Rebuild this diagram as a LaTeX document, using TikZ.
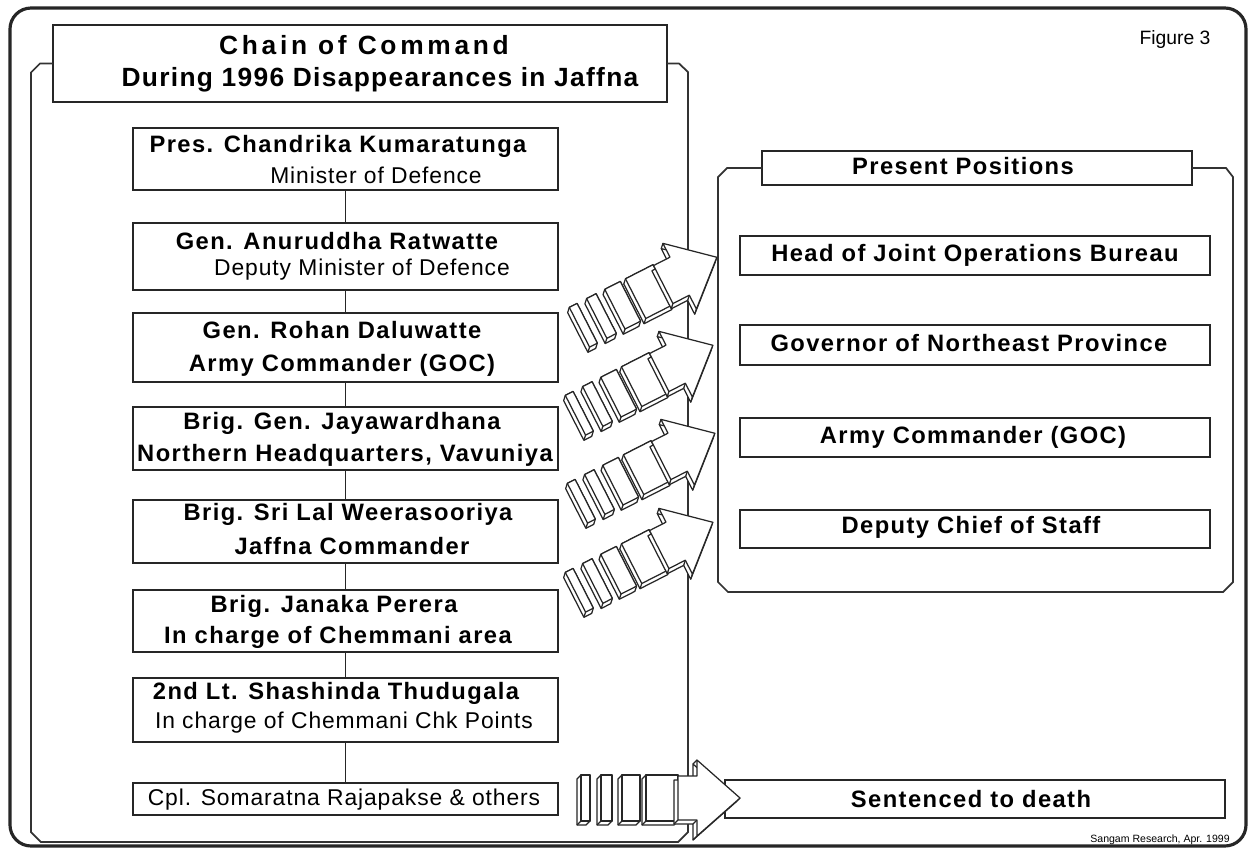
\documentclass[tikz,border=0pt]{standalone}
\usepackage{fontspec}
\setmainfont{Liberation Sans}
\newfontfamily\bxfont[LetterSpace=6]{Liberation Sans}
\newfontfamily\nmfont[LetterSpace=4]{Liberation Sans}
\newfontfamily\ttlfont[LetterSpace=5]{Liberation Sans}
\newfontfamily\chfont[LetterSpace=14]{Liberation Sans}

\tikzset{
 frame/.style={draw=black!85, line width=1.8pt, rounded corners=12pt},
 panel/.style={draw=black!80, line width=1pt},
 box/.style={draw=black!85, line width=1.1pt, fill=white, inner sep=0pt, outer sep=0pt},
 bt/.style={font=\bxfont\bfseries\fontsize{13.5}{16}\selectfont, inner sep=0pt},
 nt/.style={font=\nmfont\fontsize{13}{16}\selectfont, inner sep=0pt},
 tt/.style={font=\ttlfont\bfseries\fontsize{15}{18}\selectfont, inner sep=0pt},
 link/.style={draw=black!85, line width=1.1pt},
 arrw/.style={draw=black!85, line width=0.7pt, fill=white, line join=round},
}

\newcommand\mybox[5]{\node[box, anchor=north west, minimum width={(#4-#2)*0.02cm}, minimum height={(#5-#3)*0.02cm}] (#1) at (#2,#3) {};}

\newcommand\slab[3]{%
  \filldraw[arrw] (#1-4,-#3-4) -- (#2-4,-#3-4) -- (#2,-#3) -- (#2,#3) -- (#1,#3) -- (#1-4,#3-4) -- cycle;
  \filldraw[arrw] (#1,-#3) rectangle (#2,#3);
  \draw[arrw] (#1,-#3) -- (#1-4,-#3-4);
}

\newcommand\fatarrow[4]{%
 \begin{scope}[shift={(#1,#2)}, rotate=#3, x=#4cm, y=#4cm]
  \slab{4}{13}{23}
  \slab{24}{35}{23}
  \slab{45}{63}{23}
  \slab{69}{101}{23}
  \filldraw[arrw] (97,18) -- (116,18) -- (116,34) -- (159,-4) -- (116,-42) -- (116,-26) -- (97,-26) -- cycle;
  \draw[arrw] (116,34) -- (120,38) (159,-4) -- (163,0) (116,-42) -- (120,-38) (116,-26) -- (120,-22) (97,-26) -- (101,-22);
  \filldraw[arrw] (101,22) -- (120,22) -- (120,38) -- (163,0) -- (120,-38) -- (120,-22) -- (101,-22) -- cycle;
 \end{scope}}

\begin{document}
\begin{tikzpicture}[x=0.02cm, y=-0.02cm]
\useasboundingbox (0,0) rectangle (1249,849);
\fill[white] (0,0) rectangle (1249,849);

% outer frame
\draw[frame] (10,8) rectangle (1246,846);

% title box and left panel
\mybox{title}{53}{25}{667}{102}
\node[font=\chfont\bfseries\fontsize{15}{18}\selectfont, inner sep=0pt] (t1) at (364,45) {Chain of Command};
\node[tt] (t2) at (380,80) {During 1996 Disappearances in Jaffna};
\draw[panel] (title.west) -- ++(-13,0) -- ++(-9,9) -- (31,832) -- (41,842) -- (678,842) -- (688,832) -- (688,72) -- (679,63.5) -- (title.east);

\node[font=\fontsize{11}{13}\selectfont, inner sep=0pt] (fig) at (1175,40) {Figure 3};

% left chain
\mybox{b1}{133}{128}{558}{190}
\mybox{b2}{133}{223}{558}{290}
\mybox{b3}{133}{313}{558}{382}
\mybox{b4}{133}{407}{558}{470}
\mybox{b5}{133}{500}{558}{563}
\mybox{b6}{133}{590}{558}{652}
\mybox{b7}{133}{678}{558}{742}
\mybox{b8}{133}{783}{558}{815}

\draw[link] (b1.south) -- (b2.north);
\draw[link] (b2.south) -- (b3.north);
\draw[link] (b3.south) -- (b4.north);
\draw[link] (b4.south) -- (b5.north);
\draw[link] (b5.south) -- (b6.north);
\draw[link] (b6.south) -- (b7.north);
\draw[link] (b7.south) -- (b8.north);

\node[bt] (b1a) at (338,146) {Pres. Chandrika Kumaratunga};
\node[nt] (b1b) at (376,175) {Minister of Defence};
\node[bt] (b2a) at (337,241) {Gen. Anuruddha Ratwatte};
\node[nt] (b2b) at (362,270) {Deputy Minister of Defence};
\node[bt] (b3a) at (342,330) {Gen. Rohan Daluwatte};
\node[bt] (b3b) at (342,365) {Army Commander (GOC)};
\node[bt] (b4a) at (342,423) {Brig. Gen. Jayawardhana};
\node[bt] (b4b) at (345,455) {Northern Headquarters, Vavuniya};
\node[bt] (b5a) at (348,514) {Brig. Sri Lal Weerasooriya};
\node[bt] (b5b) at (352,546) {Jaffna Commander};
\node[bt] (b6a) at (334,606) {Brig. Janaka Perera};
\node[bt] (b6b) at (338,637) {In charge of Chemmani area};
\node[bt] (b7a) at (336,693) {2nd Lt. Shashinda Thudugala};
\node[nt] (b7b) at (344,723) {In charge of Chemmani Chk Points};
\node[nt] (b8a) at (344,800) {Cpl. Somaratna Rajapakse \& others};

% right panel
\mybox{pp}{762}{151}{1192}{185}
\node[bt] (ppt) at (963,166) {Present Positions};
\draw[panel] (pp.west) -- (727,168) -- (718,177) -- (718,582) -- (728,592) -- (1223,592) -- (1233,582) -- (1233,177) -- (1226,168) -- (pp.east);

\mybox{r1}{740}{236}{1210}{275}
\mybox{r2}{740}{325}{1210}{365}
\mybox{r3}{740}{418}{1210}{457}
\mybox{r4}{740}{510}{1210}{548}
\node[bt] (r1t) at (975,255) {Head of Joint Operations Bureau};
\node[bt] (r2t) at (969,343) {Governor of Northeast Province};
\node[bt] (r3t) at (973,437) {Army Commander (GOC)};
\node[bt] (r4t) at (971,527) {Deputy Chief of Staff};

\mybox{s1}{725}{780}{1225}{818}
\node[bt] (s1t) at (971,799) {Sentenced to death};

% 3D arrows
\fatarrow{576}{329}{27}{0.0194}
\fatarrow{572}{417}{27}{0.0194}
\fatarrow{574}{505}{27}{0.0194}
\fatarrow{572}{594}{27}{0.0194}
\fatarrow{577}{798}{0}{0.02}

\node[font=\fontsize{6}{7}\selectfont, inner sep=0pt, anchor=east] (foot) at (1230,840) {Sangam Research, Apr. 1999};
\end{tikzpicture}
\end{document}
